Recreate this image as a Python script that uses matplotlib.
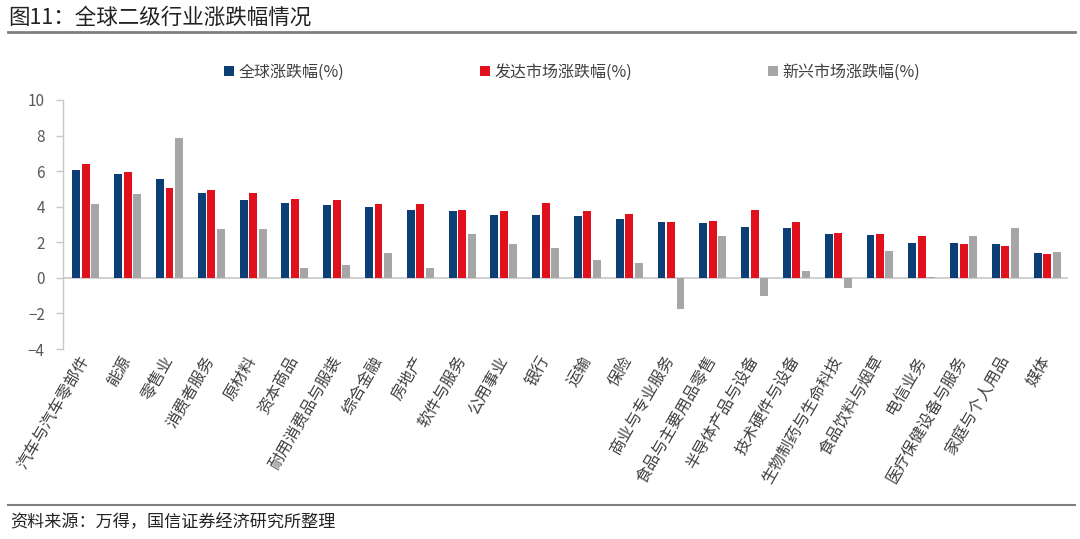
import numpy as np
import matplotlib
matplotlib.use("Agg")
import matplotlib.pyplot as plt

plt.rcParams['font.family'] = ['Noto Sans CJK SC', 'DejaVu Sans']
plt.rcParams['axes.unicode_minus'] = True

# data
industries = ["汽车与汽车零部件", "能源", "零售业", "消费者服务", "原材料", "资本商品",
              "耐用消费品与服装", "综合金融", "房地产", "软件与服务", "公用事业", "银行",
              "运输", "保险", "商业与专业服务", "食品与主要用品零售", "半导体产品与设备",
              "技术硬件与设备", "生物制药与生命科技", "食品饮料与烟草", "电信业务",
              "医疗保健设备与服务", "家庭与个人用品", "媒体"]
global_chg = [6.06, 5.82, 5.54, 4.76, 4.38, 4.20, 4.07, 3.99, 3.84, 3.78, 3.56, 3.56,
              3.46, 3.33, 3.12, 3.08, 2.88, 2.78, 2.46, 2.41, 1.94, 1.94, 1.88, 1.37]
developed_chg = [6.38, 5.97, 5.05, 4.95, 4.76, 4.44, 4.40, 4.18, 4.14, 3.84, 3.75, 4.20,
                 3.78, 3.60, 3.12, 3.18, 3.80, 3.14, 2.54, 2.49, 2.37, 1.88, 1.80, 1.33]
emerging_chg = [4.16, 4.71, 7.85, 2.73, 2.73, 0.54, 0.73, 1.39, 0.54, 2.49, 1.90, 1.66,
                1.02, 0.86, -1.75, 2.35, -1.02, 0.41, -0.56, 1.52, 0.05, 2.37, 2.78, 1.47]
series_names = ["全球涨跌幅(%)", "发达市场涨跌幅(%)", "新兴市场涨跌幅(%)"]
colors = ["#0c3f75", "#e0101c", "#a6a6a6"]

fig = plt.figure(figsize=(10.8, 5.39), dpi=100)
ax = fig.add_axes([0.0583, 0.3525, 0.9306, 0.462])

x = np.arange(len(industries))
w = 0.19
step = 0.227
for k, (vals, name, c) in enumerate(zip([global_chg, developed_chg, emerging_chg],
                                        series_names, colors)):
    ax.bar(x + (k - 1) * step, vals, width=w, color=c, label=name, zorder=3)

ax.set_xlim(-0.55, 23.5)
ax.set_ylim(-4, 10)
ax.set_yticks(np.arange(-4, 11, 2))
ax.axhline(0, color="#c8c8c8", linewidth=1.2, zorder=2)

for s in ["top", "right", "bottom"]:
    ax.spines[s].set_visible(False)
ax.spines["left"].set_color("#c8c8c8")
ax.spines["left"].set_linewidth(1.0)
ax.tick_params(axis="y", colors="#c8c8c8", labelcolor="#595959", labelsize=11,
               length=5, width=1.0, pad=8)
ax.tick_params(axis="x", length=0, pad=6)
ax.set_xticks(x)
ax.set_xticklabels(industries, rotation=60, ha="right", va="center",
                   rotation_mode="anchor", fontsize=11.5, color="#404040")

fig.legend(loc="center", bbox_to_anchor=(0.53, 0.866), ncol=3, frameon=False,
           fontsize=11.5, handlelength=0.6, handleheight=0.6, handletextpad=0.3,
           columnspacing=8.5, labelcolor="#404040")

# header and footer
fig.text(0.008, 0.967, "图11：全球二级行业涨跌幅情况", fontsize=15.5, color="#222222",
         va="center", ha="left")
fig.add_artist(plt.Line2D([0.007, 0.995], [0.941, 0.941], color="#7f7f7f", linewidth=2))
fig.add_artist(plt.Line2D([0.007, 0.995], [0.063, 0.063], color="#7f7f7f", linewidth=1.5))
fig.text(0.009, 0.031, "资料来源：万得，国信证券经济研究所整理", fontsize=12.3,
         color="#222222", va="center", ha="left")

fig.savefig("out.png", dpi=100)
